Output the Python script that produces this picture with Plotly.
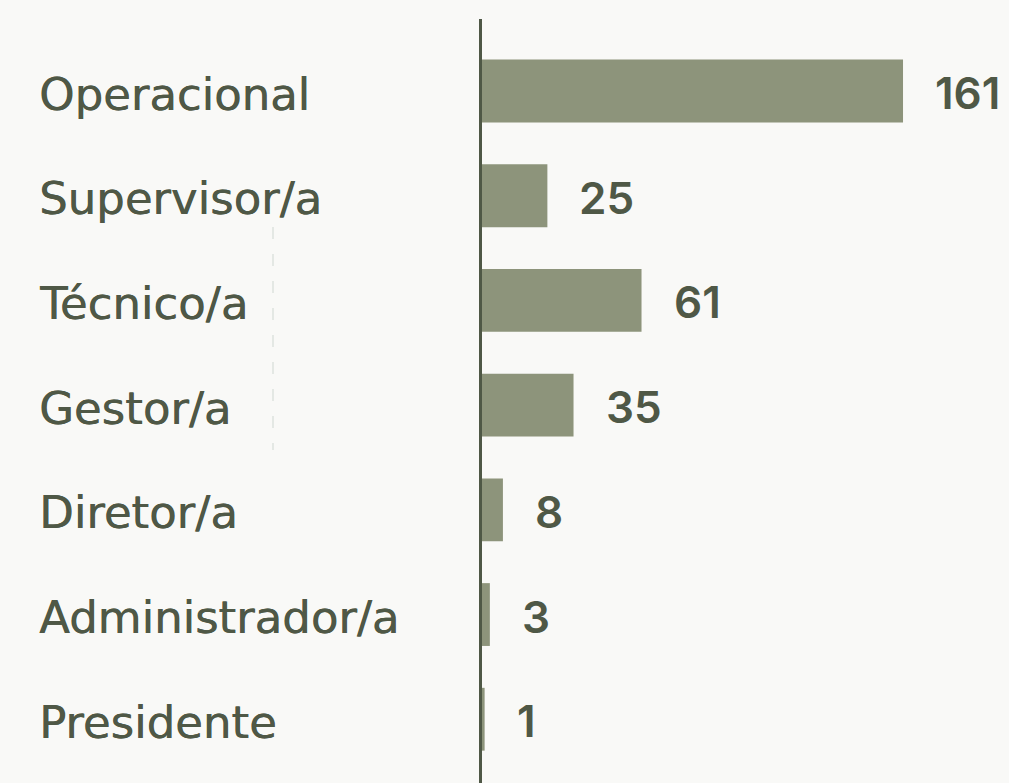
import plotly.graph_objects as go

categories = ["Operacional", "Supervisor/a", "Técnico/a", "Gestor/a", "Diretor/a", "Administrador/a", "Presidente"]
values = [161, 25, 61, 35, 8, 3, 1]

BAR_COLOR = "#8d947b"
TEXT_COLOR = "#4f5846"
BG = "#f9f9f7"
LABEL_FONT = "DejaVu Sans, sans-serif"
NUM_FONT = "Inter, sans-serif"

W, H = 1009, 783
L, R, T, B = 482, 4, 19, 0
pw = W - L - R
ph = H - T - B

fig = go.Figure()
fig.add_trace(go.Bar(
    x=values, y=categories, orientation="h",
    marker=dict(color=BAR_COLOR, line=dict(width=0)),
    width=0.6, hoverinfo="skip",
))

annotations = []
for c, v in zip(categories, values):
    annotations.append(dict(
        x=v, y=c, xref="x", yref="y", text=str(v), showarrow=False,
        xanchor="left", yanchor="middle", xshift=30, yshift=-2,
        font=dict(family=NUM_FONT, size=44, color=TEXT_COLOR, weight=600),
    ))
    annotations.append(dict(
        x=(37 - L) / pw, y=c, xref="paper", yref="y", text=c, showarrow=False,
        xanchor="left", yanchor="middle", yshift=-3,
        font=dict(family=LABEL_FONT, size=45, color=TEXT_COLOR,
                  shadow="0.5px 0px 0px #4f5846"),
    ))

fig.add_shape(
    type="line", xref="paper", yref="paper",
    x0=(273 - L) / pw, x1=(273 - L) / pw,
    y0=(H - B - 227) / ph, y1=(H - B - 450) / ph,
    line=dict(color="#e4e8e4", width=2, dash="12px,15px"),
)

fig.update_layout(
    width=W, height=H,
    margin=dict(l=L, r=R, t=T, b=B),
    paper_bgcolor=BG, plot_bgcolor=BG,
    showlegend=False,
    annotations=annotations,
    bargap=0.4,
    xaxis=dict(range=[0, 200], visible=False, showgrid=False, zeroline=False),
    yaxis=dict(
        range=[6.609, -0.688], showticklabels=False, showgrid=False, zeroline=False,
        showline=True, linewidth=3, linecolor=TEXT_COLOR, ticks="",
    ),
)

fig.write_html(
    "out.html",
    config={"displayModeBar": False},
    post_script="document.body.style.margin='0';document.body.style.background='#f9f9f7';",
)
